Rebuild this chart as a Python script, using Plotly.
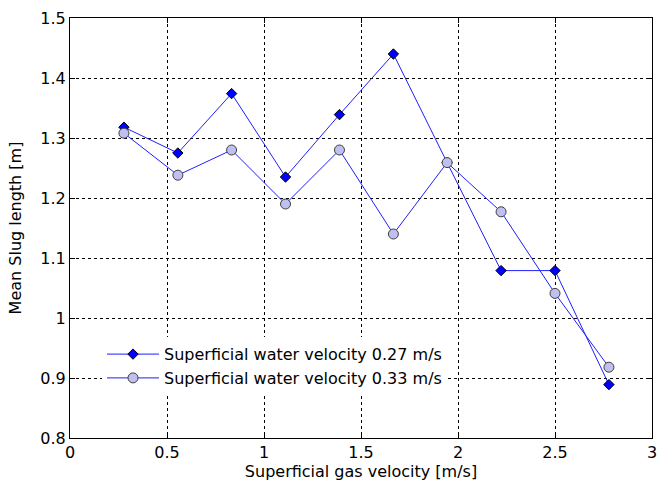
import plotly.graph_objects as go

x_vals = [0.278, 0.556, 0.833, 1.111, 1.389, 1.667, 1.944, 2.222, 2.5, 2.778]
y_027 = [1.318, 1.275, 1.374, 1.235, 1.339, 1.44, 1.259, 1.079, 1.079, 0.889]
y_033 = [1.308, 1.238, 1.28, 1.19, 1.28, 1.14, 1.259, 1.177, 1.041, 0.918]
name_027 = "Superficial water velocity 0.27 m/s"
name_033 = "Superficial water velocity 0.33 m/s"
x_ticks = [0, 0.5, 1, 1.5, 2, 2.5, 3]
x_tick_text = ["0", "0.5", "1", "1.5", "2", "2.5", "3"]
y_ticks = [0.8, 0.9, 1.0, 1.1, 1.2, 1.3, 1.4, 1.5]
y_tick_text = ["0.8", "0.9", "1", "1.1", "1.2", "1.3", "1.4", "1.5"]

FONT = "DejaVu Sans"
fig = go.Figure()
fig.add_trace(go.Scatter(
    x=x_vals, y=y_027, name=name_027, mode="lines+markers",
    line=dict(color="#1f1fff", width=1),
    marker=dict(symbol="diamond", size=8, color="#0000ff",
                line=dict(color="black", width=1)),
))
fig.add_trace(go.Scatter(
    x=x_vals, y=y_033, name=name_033, mode="lines+markers",
    line=dict(color="#1f1fff", width=1),
    marker=dict(symbol="circle", size=10, color="#c0c0f0",
                line=dict(color="#404040", width=1)),
))

axis_common = dict(
    showline=True, linecolor="black", linewidth=1, mirror="allticks",
    ticks="inside", ticklen=5, tickcolor="black",
    showgrid=True, gridcolor="black", griddash="dot", gridwidth=1,
    zeroline=False, ticklabeloverflow="allow",
    tickfont=dict(family=FONT, size=16, color="black"),
)
fig.update_xaxes(range=[0, 3], tickvals=x_ticks, ticktext=x_tick_text,
                 title=dict(text="Superficial gas velocity [m/s]", standoff=4,
                            font=dict(family=FONT, size=16, color="black")),
                 **axis_common)
fig.update_yaxes(range=[0.8, 1.5], tickvals=y_ticks, ticktext=y_tick_text,
                 title=dict(text="Mean Slug length [m]", standoff=14,
                            font=dict(family=FONT, size=16, color="black")),
                 **axis_common)
fig.update_layout(
    width=661, height=487,
    margin=dict(l=70, r=4, t=18, b=49),
    paper_bgcolor="white", plot_bgcolor="white",
    showlegend=True,
    legend=dict(x=0.055, y=0.24, xanchor="left", yanchor="top",
                bgcolor="white", borderwidth=0,
                font=dict(family=FONT, size=16, color="black"),
                tracegroupgap=0, itemwidth=52),
)
fig.write_html("out.html")
